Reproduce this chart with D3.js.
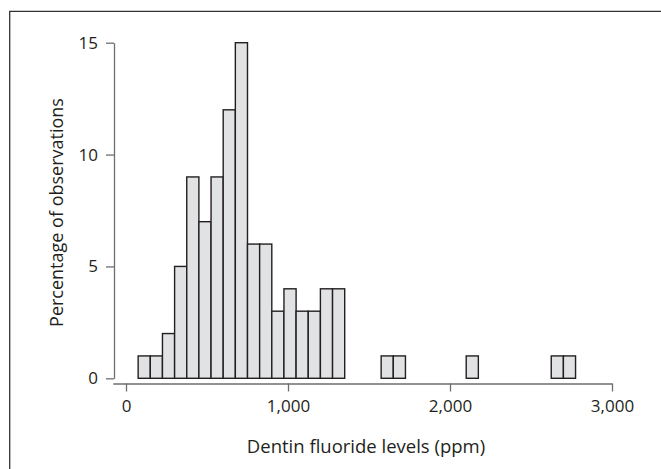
<!DOCTYPE html>
<html>
<head>
<meta charset="utf-8">
<script src="https://cdn.jsdelivr.net/npm/d3@7"></script>
<style>
  body { margin: 0; background: #fff; }
  text { font-family: "Open Sans", sans-serif; fill: #231f20; }
</style>
</head>
<body>
<div id="chart"></div>
<script>
// bin edges (ppm) and percentage of observations per bin
const binStart = [75, 150, 225, 300, 375, 450, 525, 600, 675, 750, 825, 900, 975, 1050, 1125, 1200, 1275,
                  1575, 1650, 2100, 2625, 2700];
const binWidth = 75;
const percent = [1, 1, 2, 5, 9, 7, 9, 12, 15, 6, 6, 3, 4, 3, 3, 4, 4,
                 1, 1, 1, 1, 1];
const xTicks = [0, 1000, 2000, 3000];
const yTicks = [0, 5, 10, 15];

const width = 661, height = 469;

const svg = d3.select('#chart').append('svg')
  .attr('width', width)
  .attr('height', height);

// frame: top and left edges only
svg.append('path')
  .attr('d', 'M9.7,469V11.3H661')
  .attr('fill', 'none')
  .attr('stroke', '#333')
  .attr('stroke-width', 1.3);

const x = d3.scaleLinear().domain([0, 3000]).range([126, 612]);
const y = d3.scaleLinear().domain([0, 15]).range([378.3, 42.7]);

const axisColor = '#6d6e71';

// bars
const bins = binStart.map((s, i) => ({ x0: s, x1: s + binWidth, v: percent[i] }));
svg.append('g')
  .selectAll('rect')
  .data(bins)
  .join('rect')
  .attr('x', d => x(d.x0))
  .attr('y', d => y(d.v))
  .attr('width', d => x(d.x1) - x(d.x0))
  .attr('height', d => y(0) - y(d.v))
  .attr('fill', '#e1e2e3')
  .attr('stroke', '#231f20')
  .attr('stroke-width', 1.4);

// y axis
const yAxis = svg.append('g')
  .attr('transform', 'translate(114,0)')
  .call(d3.axisLeft(y).tickValues(yTicks).tickSize(8).tickPadding(8).tickSizeOuter(0));

// x axis
const xAxis = svg.append('g')
  .attr('transform', 'translate(0,383.5)')
  .call(d3.axisBottom(x).tickValues(xTicks).tickSize(8).tickPadding(8).tickSizeOuter(0)
    .tickFormat(d3.format(',')));
xAxis.select('.domain').attr('d', 'M113.3,0.5H612.5');

[yAxis, xAxis].forEach(a => {
  a.select('.domain').attr('stroke', axisColor).attr('stroke-width', 1.3);
  a.selectAll('.tick line').attr('stroke', axisColor).attr('stroke-width', 1.3);
  a.selectAll('.tick text')
    .attr('fill', '#231f20')
    .style('font-size', '17px')
    .style('font-family', '"Open Sans", sans-serif');
});

// axis titles
svg.append('text')
  .attr('x', 366)
  .attr('y', 453)
  .attr('text-anchor', 'middle')
  .style('font-size', '18.5px')
  .text('Dentin fluoride levels (ppm)');

svg.append('text')
  .attr('transform', 'translate(63,212.5) rotate(-90)')
  .attr('text-anchor', 'middle')
  .style('font-size', '18px')
  .text('Percentage of observations');
</script>
</body>
</html>
